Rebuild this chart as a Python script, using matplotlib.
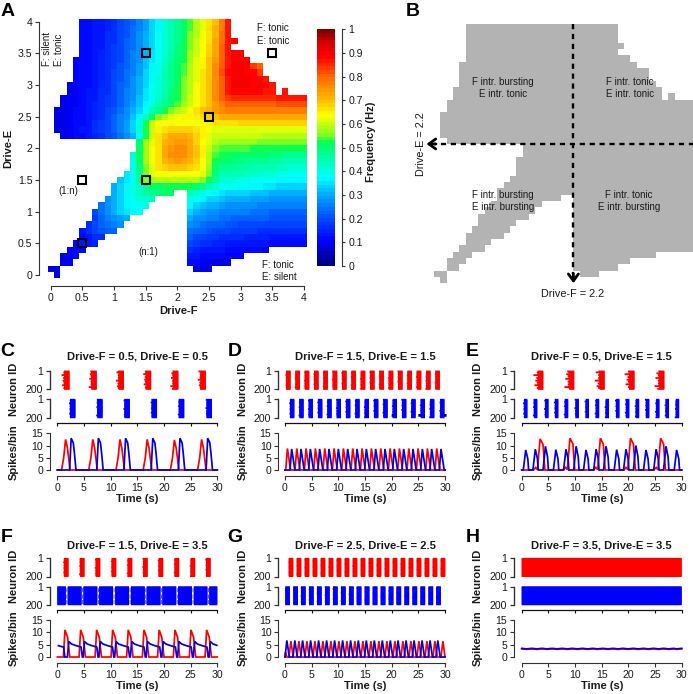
import numpy as np
import matplotlib
matplotlib.use("Agg")
import matplotlib.pyplot as plt
from matplotlib.colors import LinearSegmentedColormap, ListedColormap

plt.rcParams['font.family'] = ['Liberation Sans', 'DejaVu Sans']
W, H = 693, 694
TXT = '#1a1a1a'

# ---------- heat map values (hundredths of Hz): row -> [(first column, values), ...]
HEAT_ROWS = {
 40: [(5, [11,12,13,14,15,17,19,21,23,26,29,33,37,41,44,47,50,54,58,62,66,70,78,86])],
 39: [(5, [11,12,13,14,15,17,19,21,24,26,29,33,37,41,44,47,50,54,58,62,66,71,78,86])],
 38: [(5, [11,12,13,14,16,17,19,21,24,27,30,34,38,41,45,48,51,55,59,63,67,71,79,86])],
 37: [(5, [11,12,13,14,16,17,19,22,24,27,30,34,38,42,45,48,52,56,60,63,67,72,79,86,88])],
 36: [(5, [11,12,13,14,16,18,20,22,24,27,31,34,38,42,45,49,52,56,60,64,68,72,80,87])],
 35: [(5, [11,12,13,15,16,18,20,22,25,28,31,35,39,42,46,49,53,57,60,64,68,73,80,87,89,90])],
 34: [(4, [10,11,12,13,15,16,18,20,23,25,28,32,35,39,43,46,50,53,57,61,65,69,74,81,87,89,89,90])],
 33: [(4, [10,11,12,13,15,17,18,21,23,26,29,32,36,40,43,47,50,54,58,62,65,69,75,81,87,90,90,88,83,80])],
 32: [(4, [10,11,12,14,15,17,19,21,24,26,29,33,37,40,44,47,51,54,58,62,66,70,75,82,88,90,90,89,88,83])],
 31: [(4, [10,11,12,14,15,17,19,21,24,27,30,33,37,41,44,48,51,55,59,62,66,70,75,81,87,90,90,90,89,88,86])],
 30: [(3, [9,10,11,12,14,15,17,19,22,24,27,30,34,38,41,45,48,52,55,59,63,66,70,75,81,87,90,90,90,89,88,88,87])],
 29: [(3, [9,10,11,13,14,16,17,20,22,25,28,31,35,38,42,45,49,52,56,59,63,67,70,75,81,86,88,88,88,88,88,87,87]), (37, [86])],
 28: [(2, [9,10,10,11,13,14,16,18,20,22,25,28,32,35,39,43,46,50,53,56,60,63,67,70,75,80,84,85,85,85,85,85,85,85,86,86,86,86,86])],
 27: [(2, [9,10,10,12,13,15,16,18,20,23,26,29,32,36,40,44,48,51,54,57,60,63,66,70,74,78,80,81,81,81,81,81,81,81,82,82,82,82,82])],
 26: [(1, [8,9,10,11,12,13,15,17,19,21,24,27,30,34,39,44,48,52,55,58,60,63,66,69,71,74,76,77,77,77,77,77,77,77,77,78,78,78,78,78])],
 25: [(1, [8,9,10,11,12,14,15,17,19,22,25,28,32,37,43,50,55,59,62,64,65,65,65,66,68,70,72,72,73,73,73,73,73,73,73,73,73,73,73,73])],
 24: [(1, [8,9,10,11,12,14,16,18,20,22,25,29,33,40,52,60,63,64,64,64,64,64,64,64,65,66,66,67,67,68,68,68,68,68,68,68,68,68,68,68])],
 23: [(1, [8,9,10,11,13,14,16,18,20,23,26,29,34,42,52,60,65,67,68,68,68,68,67,65,63,62,62,62,62,62,62,62,62,62,62,62,62,62,62,62])],
 22: [(2, [9,10,11,12,13,15,17,19,21,24,27,31,38,53,60,66,70,72,73,73,71,68,65,61,60,60,60,60,60,60,60,60,59,59,59,59,59,59,59])],
 21: [(14, [50,57,62,67,71,73,74,74,72,68,64,61,58,57,57,57,57,57,57,56,56,56,56,55,55,55,55])],
 20: [(14, [50,57,63,67,72,74,76,75,73,69,65,60,56,54,54,54,54,54,53,53,53,53,52,52,52,52,52])],
 19: [(13, [41,50,57,63,67,72,75,76,75,73,69,65,59,54,52,52,51,51,51,50,50,50,49,49,48,48,47,47])],
 18: [(13, [40,50,57,63,67,71,73,74,73,71,68,64,58,53,50,50,49,49,48,48,47,47,46,46,45,45,44,44])],
 17: [(13, [39,49,56,62,66,68,69,69,69,68,66,63,57,51,48,47,47,46,46,45,45,44,44,43,43,42,42,41])],
 16: [(12, [35,38,48,55,62,63,64,64,64,64,64,63,61,55,49,45,45,44,44,43,43,42,41,41,40,40,39,39,38])],
 15: [(11, [32,35,38,47,56,57,58,59,59,59,59,59,58,56,52,47,42,41,41,40,40,39,39,38,38,37,37,36,36,36])],
 14: [(10, [31,34,37,40,43,47,50,51,52,52,52,52,52,50,47,44,41,39,38,38,37,37,36,36,35,35,34,34,34,33,33])],
 13: [(10, [30,34,37,40,43,46,48,49,50,50]), (22, [44,42,40,38,36,35,34,34,33,33,32,32,32,31,31,31,30,30,30])],
 12: [(9, [27,31,34,37,39,41,42,43]), (22, [40,38,36,34,33,32,31,31,30,30,29,29,29,28,28,28,28,27,27])],
 11: [(8, [24,28,31,34,36,38,39,40]), (22, [36,34,32,31,30,29,28,28,27,27,27,26,26,26,26,25,25,25,25])],
 10: [(7, [20,24,27,30,33,35,37,38]), (22, [33,31,29,28,27,26,26,25,25,25,24,24,24,23,23,23,23,23,23])],
 9: [(7, [18,22,25,27,29,30]), (22, [30,28,27,26,25,24,24,23,23,22,22,22,22,21,21,21,21,21,21])],
 8: [(6, [16,19,22,24,26,28]), (22, [27,25,24,23,22,22,21,21,20,20,20,20,19,19,19,19,19,19,19])],
 7: [(5, [14,17,19,21,22,23]), (22, [24,23,22,21,20,19,19,18,18,18,18,17,17,17,17,16,16,16,16])],
 6: [(5, [12,14,16,17]), (22, [22,20,19,18,18,17,17,16,16,15,15,15,15,14,14,14,14,14,14])],
 5: [(4, [11,13,14,15]), (22, [19,18,17,16,15,15,14,14,14,13,13,13,13,12,12,12,12,12,11])],
 4: [(3, [10,11,12]), (22, [16,15,14,14,13,13,12,12,12,11,11,11,10])],
 3: [(2, [9,10,11]), (22, [14,13,12,12,11,11,10,10,10])],
 2: [(2, [9,10]), (22, [12,11,10,10,9,9,9])],
 1: [(0, [8,9]), (23, [9,9,8])],
 0: [(1, [8])],
}
MARKER_F = [0.5, 1.5, 0.5, 1.5, 2.5, 3.5]
MARKER_E = [0.5, 1.5, 1.5, 3.5, 2.5, 3.5]
DRIVE_TICKS = [0, 0.5, 1, 1.5, 2, 2.5, 3, 3.5, 4]
DRIVE_LABELS = ['0', '0.5', '1', '1.5', '2', '2.5', '3', '3.5', '4']
FREQ_TICKS = [0, .1, .2, .3, .4, .5, .6, .7, .8, .9, 1]
FREQ_LABELS = ['0', '0.1', '0.2', '0.3', '0.4', '0.5', '0.6', '0.7', '0.8', '0.9', '1']
SPLIT_DRAWN = 2.15
TIME_TICKS = [0, 5, 10, 15, 20, 25, 30]
RATE_TICKS = [0, 5, 10, 15]

# ---------- raster bursts (s)
C_RED = [1.3, 6.4, 11.5, 16.6, 21.7, 26.85]
C_BLUE = [2.4, 7.5, 12.6, 17.7, 22.8, 28.0]
D_RED = [.2, 1.95, 3.7, 5.45, 7.2, 8.95, 10.7, 12.45, 14.2, 15.95, 17.7, 19.45, 21.2, 22.95, 24.7, 26.45, 28.2]
D_BLUE = [.95, 2.7, 4.45, 6.2, 7.95, 9.7, 11.45, 13.2, 14.95, 16.7, 18.45, 20.2, 21.95, 23.7, 25.45, 27.2, 29.1]
D_EXTRA = [15.0, 20.0, 25.0, 29.8]
E_RED = [3.1, 8.9, 14.6, 20.2, 25.8]
E_BLUE = [.45, 2.3, 4.4, 6.25, 8.1, 10.1, 12.0, 13.9, 15.75, 17.7, 19.55, 21.4, 23.3, 25.2, 27.0, 28.9]
F_RED = [1.25, 4.25, 7.2, 10.2, 13.2, 16.1, 19.0, 22.0, 25.0, 27.9]
F_BLUE_ON = [0.0, 1.95, 4.9, 7.85, 10.85, 13.8, 16.75, 19.7, 22.65, 25.6, 28.5]
F_BLUE_OFF = [1.6, 4.55, 7.5, 10.45, 13.45, 16.4, 19.35, 22.3, 25.25, 28.15, 30.0]
G_RED = [.7, 2.2, 3.7, 5.2, 6.7, 8.2, 9.7, 11.2, 12.7, 14.2, 15.7, 17.2, 18.7, 20.2, 21.7, 23.2, 24.7, 26.2, 27.7, 29.2]
G_BLUE = [.05, 1.55, 3.0, 4.5, 6.0, 7.5, 9.0, 10.5, 12.0, 13.45, 14.95, 16.45, 17.95, 19.45, 20.9, 22.4, 23.9, 25.4, 26.9, 28.35]
H_ON = [0.0]
H_OFF = [30.0]
# relative lead of each 10-neuron group of a burst, read as typical jaggedness
LEAD = [.1, .3, 0, .2, 1, .1, 0, .4, .2, 0, .6, .1, .3, 0, .2, .8, .1, 0, .3, .1]

# ---------- rate traces: peak times (s), heights, and one cycle's shape (dt, fraction)
C_RED_PK = [1.55, 6.65, 11.75, 16.85, 21.95, 27.05]
C_BLUE_PK = [2.6, 7.7, 12.8, 17.9, 23.0, 28.2]
C_RED_H = [12.5, 12.5, 12.5, 12.5, 12.3, 12.5]
C_BLUE_H = [13, 13, 13, 13, 13, 13]
D_RED_PK = [.45, 2.2, 3.95, 5.7, 7.45, 9.2, 10.95, 12.7, 14.45, 16.2, 17.95, 19.7, 21.45, 23.2, 24.95, 26.7, 28.45]
D_BLUE_PK = [1.25, 3.0, 4.75, 6.5, 8.25, 10.0, 11.75, 13.5, 15.25, 17.0, 18.75, 20.5, 22.25, 24.0, 25.75, 27.5, 29.25]
D_RED_H = [8.8] * 17
D_BLUE_H = [8.6] * 17
E_RED_PK = [3.45, 9.05, 14.75, 20.4, 26.05]
E_RED_H = [12.7, 13, 13, 13, 13]
E_BLUE_PK = [.75, 2.55, 4.45, 6.4, 8.3, 10.2, 12.05, 13.95, 15.8, 17.8, 19.55, 21.4, 23.3, 25.2, 27.05, 29.05]
E_BLUE_H = [8.2, 8.5, 9.7, 8.3, 8.5, 9.7, 8.2, 8.5, 9.7, 8.3, 8.5, 10, 8.2, 8.5, 9.7, 8.2]
F_RED_PK = [1.44, 4.38, 7.38, 10.38, 13.3, 16.25, 19.1, 22.06, 25.06, 28.0]
F_RED_H = [11] * 10
F_BLUE_PK = [2.15, 5.1, 8.05, 11.0, 13.95, 16.9, 19.85, 22.8, 25.75, 28.7]
F_BLUE_H = [6.3] * 10
G_RED_PK = [1.1, 2.6, 4.1, 5.6, 7.1, 8.6, 10.1, 11.6, 13.1, 14.6, 16.1, 17.6, 19.1, 20.6, 22.1, 23.6, 25.1, 26.6, 28.1, 29.6]
G_BLUE_PK = [.35, 1.85, 3.3, 4.8, 6.3, 7.8, 9.3, 10.8, 12.3, 13.75, 15.25, 16.75, 18.25, 19.75, 21.2, 22.7, 24.2, 25.7, 27.2, 28.65]
G_RED_H = [6.4] * 20
G_BLUE_H = [6.7] * 20
H_PK = [0, 1.9, 3.8, 5.7, 7.6, 9.5, 11.4, 13.3, 15.2, 17.1, 19, 20.9, 22.8, 24.7, 26.6, 28.5, 30]
H_RED_H = [3.3] * 17
H_BLUE_H = [3.5] * 17
SHAPE_C_RED = ([-.75, -.35, 0, .35, .85], [0, .4, 1, .72, 0])
SHAPE_C_BLUE = ([-.3, 0, .4, .6, .9], [0, 1, .85, .55, 0])
SHAPE_D = ([-.32, 0, .6], [0, 1, 0])
SHAPE_E_RED = ([-1.25, -.85, -.5, 0, .55, .9], [0, .08, .01, 1, .82, 0])
SHAPE_E_BLUE = ([-.45, 0, .4, .55], [0, 1, .55, 0])
SHAPE_F_RED = ([-.3, 0, .5, .9], [0, 1, .72, 0])
SHAPE_F_BLUE = ([-.25, 0, .5, 1.2, 2.0, 2.3, 2.55], [0, 1, .84, .75, .67, .64, 0])
SHAPE_G = ([-.35, 0, .45], [0, 1, 0])
SHAPE_H = ([-.95, 0], [.94, 1])
F_BLUE_HEAD = ([0.2, 1.2, 1.4], [4.6, 4.0, 0])
G_RED_HEAD = ([0.1, .35], [2, 0])

PANELS = [
 dict(c='C', f=.5, e=.5, col=0, row=0, red=(C_RED, [1.0]*6, .5), blue=(C_BLUE, [1.0]*6, .2),
      rt=(C_RED_PK, C_RED_H, SHAPE_C_RED), bt=(C_BLUE_PK, C_BLUE_H, SHAPE_C_BLUE)),
 dict(c='D', f=1.5, e=1.5, col=1, row=0, red=(D_RED, [.85]*17, .12), blue=(D_BLUE, [.8]*17, .15),
      rt=(D_RED_PK, D_RED_H, SHAPE_D), bt=(D_BLUE_PK, D_BLUE_H, SHAPE_D)),
 dict(c='E', f=.5, e=1.5, col=2, row=0, red=(E_RED, [.95]*5, .9), blue=(E_BLUE, [.62]*16, .2),
      rt=(E_RED_PK, E_RED_H, SHAPE_E_RED), bt=(E_BLUE_PK, E_BLUE_H, SHAPE_E_BLUE)),
 dict(c='F', f=1.5, e=3.5, col=0, row=1, red=(F_RED, [.85]*10, .15),
      blue=(F_BLUE_ON, list(np.subtract(F_BLUE_OFF, F_BLUE_ON)), 0),
      rt=(F_RED_PK, F_RED_H, SHAPE_F_RED), bt=(F_BLUE_PK, F_BLUE_H, SHAPE_F_BLUE), head=F_BLUE_HEAD),
 dict(c='G', f=2.5, e=2.5, col=1, row=1, red=(G_RED, [.85]*20, .05), blue=(G_BLUE, [.88]*20, .05),
      rt=(G_RED_PK, G_RED_H, SHAPE_G), bt=(G_BLUE_PK, G_BLUE_H, SHAPE_G), rhead=G_RED_HEAD),
 dict(c='H', f=3.5, e=3.5, col=2, row=1, red=(H_ON, [30.0], 0), blue=(H_ON, [30.0], 0),
      rt=(H_PK, H_RED_H, SHAPE_H), bt=(H_PK, H_BLUE_H, SHAPE_H)),
]

# ---------- layout
COL_X = [(57.3, 217.3, 50.0, 14), (285.0, 445.0, 278.3, 243), (521.7, 681.7, 514.2, 478)]
LETTER_X = [7, 235, 472.7]
ROW_Y = [dict(letter=352, title=356.7, r=(371, 389.3), b=(399.3, 417.7), top=423.3, s=(433.3, 470), bot=476, time=499.3, nid=389, sp=451.7),
         dict(letter=538, title=545, r=(558.3, 576.5), b=(586.7, 604.7), top=610, s=(620, 657), bot=662.7, time=685.7, nid=576.7, sp=638)]
DARK = '#333333'

fig = plt.figure(figsize=(W / 100, H / 100), dpi=100, facecolor='white')

def axpx(l, t, r, b):
    a = fig.add_axes([l / W, 1 - b / H, (r - l) / W, (b - t) / H])
    a.patch.set_alpha(0)
    return a

def T(x, y, s, **k):
    k.setdefault('ha', 'center'); k.setdefault('va', 'center'); k.setdefault('color', TXT)
    fig.text(x / W, 1 - y / H, s, **k)

def pts(px):
    return px * 72 / 100

# ---------- heat map
heat = np.full((41, 41), np.nan)
for j, segs in HEAT_ROWS.items():
    for start, vals in segs:
        heat[j, start:start + len(vals)] = np.array(vals) / 100
edges = np.arange(42) * 0.1 - 0.05
cmap = LinearSegmentedColormap.from_list('freq', [
    (0, (0, 0, .5)), (.1, (0, 0, 1)), (.2, (0, .3, 1)), (.3, (0, .68, 1)), (.37, (0, 1, 1)),
    (.47, (0, 1, .6)), (.52, (0, 1, .35)), (.56, (.55, 1, .1)), (.64, (1, 1, 0)), (.7, (1, .75, 0)),
    (.8, (1, .42, 0)), (.89, (1, 0, 0)), (.95, (.85, 0, 0)), (1, (.5, 0, 0))], N=64)

axA = axpx(47.5, 18.5, 307.2, 278.2)
axA.pcolormesh(edges, edges, np.ma.masked_invalid(heat), cmap=cmap, vmin=0, vmax=1, linewidth=0)
axA.plot(MARKER_F, MARKER_E, ls='', marker='s', ms=5.6, mfc='none', mec='black', mew=1.5)
axA.set_xlim(-.05, 4.05); axA.set_ylim(-.05, 4.05)
for s in ('top', 'right'):
    axA.spines[s].set_visible(False)
axA.spines['bottom'].set_position(('outward', pts(7.5))); axA.spines['bottom'].set_bounds(0, 4)
axA.spines['left'].set_position(('outward', pts(8.2))); axA.spines['left'].set_bounds(0, 4)
axA.spines['bottom'].set_color(DARK); axA.spines['left'].set_color(DARK)
axA.set_xticks(DRIVE_TICKS, DRIVE_LABELS); axA.set_yticks(DRIVE_TICKS, DRIVE_LABELS)
axA.tick_params(length=3, width=.8, labelsize=7.6, color=DARK, labelcolor=TXT, pad=2)
T(178, 311, 'Drive-F', fontsize=8, fontweight='bold')
T(8, 148, 'Drive-E', fontsize=8, fontweight='bold', rotation=90)
T(47, 49, 'F: silent', fontsize=7, rotation=90)
T(58.7, 50, 'E: tonic', fontsize=7, rotation=90)
T(256.7, 28.3, 'F: tonic', fontsize=7, ha='left')
T(256.7, 40.7, 'E: tonic', fontsize=7, ha='left')
T(68, 190.7, '(1:n)', fontsize=7)
T(148.3, 251.7, '(n:1)', fontsize=7)
T(261.7, 265, 'F: tonic', fontsize=7, ha='left')
T(261.7, 277.3, 'E: silent', fontsize=7, ha='left')

# ---------- colour bar
axC = axpx(316.5, 29.3, 335.2, 266)
lev = np.linspace(0, 1, 65)
axC.pcolormesh([0, 1], lev, ((lev[:-1] + lev[1:]) / 2)[:, None], cmap=cmap, vmin=0, vmax=1)
axC.set_xticks([]); axC.set_ylim(0, 1)
for s in ('top', 'left', 'bottom'):
    axC.spines[s].set_visible(False)
axC.yaxis.tick_right()
axC.spines['right'].set_position(('outward', pts(7))); axC.spines['right'].set_color(DARK)
axC.set_yticks(FREQ_TICKS, FREQ_LABELS)
axC.tick_params(length=2.5, width=.8, labelsize=7.6, color=DARK, labelcolor=TXT, pad=2)
T(370.7, 141.7, 'Frequency (Hz)', fontsize=8, fontweight='bold', rotation=90)

# ---------- panel B
axB = axpx(434.1, 23.7, 693.7, 283.2)
axB.pcolormesh(edges, edges, np.ma.masked_invalid(np.where(np.isnan(heat), np.nan, 1.0)),
               cmap=ListedColormap(['#b3b3b3']), vmin=0, vmax=2, linewidth=0)
axB.set_xlim(-.05, 4.05); axB.set_ylim(-.05, 4.05)
axB.axis('off')
axB.plot([SPLIT_DRAWN, SPLIT_DRAWN], [4.05, .1], color='black', lw=1.7, ls=(0, (2.2, 2)))
axB.plot([4.05, -.08], [SPLIT_DRAWN, SPLIT_DRAWN], color='black', lw=1.7, ls=(0, (2.2, 2)))
ARROW = dict(arrowstyle='->,head_length=0.55,head_width=0.4', lw=2.0, color='black', mutation_scale=9, shrinkA=0, shrinkB=0)
axB.annotate('', xy=(SPLIT_DRAWN, -.05), xytext=(SPLIT_DRAWN, .1), annotation_clip=False, arrowprops=ARROW)
axB.annotate('', xy=(-.17, SPLIT_DRAWN), xytext=(-.02, SPLIT_DRAWN), annotation_clip=False, arrowprops=ARROW)
for x, y, s in [(502.7, 82, 'F intr. bursting'), (502.7, 94, 'E intr. tonic'),
                (630, 82, 'F intr. tonic'), (630, 94, 'E intr. tonic'),
                (502.7, 194.5, 'F intr. bursting'), (502.7, 207, 'E intr. bursting'),
                (629, 194.5, 'F intr. tonic'), (629, 207, 'E intr. bursting')]:
    T(x, y, s, fontsize=7)
T(572.5, 294, 'Drive-F = 2.2', fontsize=7.8)
T(420.5, 144, 'Drive-E = 2.2', fontsize=7.8, rotation=90)

# ---------- time-series panels
def raster(a, bursts, color):
    starts, widths, lead = bursts
    for b, (s, w) in enumerate(zip(starts, widths)):
        for k in range(20):
            ld = LEAD[(k + 7 * b) % 20]
            left = s - lead * ld
            a.barh(10 * k + 6, s + w - left, left=left, height=20, color=color, lw=0, clip_on=False, snap=False)
    a.set_xlim(0, 30); a.set_ylim(200, 1)

def trace(pk, hs, shape, head=None):
    dts, fr = shape
    t, v = ([], []) if head is None else (list(head[0]), list(head[1]))
    for p, h in zip(pk, hs):
        t += [p + d for d in dts]
        v += [h * f for f in fr]
    t, v = np.array(t), np.array(v)
    keep = (t >= 0) & (t <= 30)
    return t[keep], v[keep]

for P in PANELS:
    x0, x1, sx, lx = COL_X[P['col']]
    R = ROW_Y[P['row']]
    T(LETTER_X[P['col']], R['letter'], P['c'], fontsize=14, fontweight='bold', color='black')
    T((x0 + x1) / 2, R['title'], f"Drive-F = {P['f']}, Drive-E = {P['e']}", fontsize=8, fontweight='bold')
    for key, rng, col in (('red', R['r'], '#ff0000'), ('blue', R['b'], '#0000ff')):
        a = axpx(x0, rng[0], x1, rng[1])
        raster(a, P[key], col)
        for s in ('top', 'right', 'bottom'):
            a.spines[s].set_visible(False)
        a.spines['left'].set_position(('outward', pts(x0 - sx)))
        a.spines['left'].set_color(DARK); a.spines['left'].set_linewidth(1.0)
        a.set_yticks([1, 200], ['1', '200'])
        a.tick_params(axis='y', length=3, width=.9, labelsize=7.6, color=DARK, labelcolor=TXT, pad=2)
        if key == 'blue':
            if P['c'] == 'D':
                a.barh([175] * len(D_EXTRA), [.5] * len(D_EXTRA), left=D_EXTRA, height=30, color='#000080', lw=0, clip_on=False, snap=False)
            if P['c'] == 'F':
                # sparse spikes still present inside the gaps of the blue raster
                for off in F_BLUE_OFF[:-1]:
                    a.barh([40, 110, 170], [.12] * 3, left=off + .13, height=45, color='#0000ff', lw=0, clip_on=False, snap=False)
            a.spines['bottom'].set_visible(True)
            a.spines['bottom'].set_position(('outward', pts(R['top'] - rng[1])))
            a.spines['bottom'].set_color('#111111'); a.spines['bottom'].set_linewidth(.9)
            a.set_xticks(TIME_TICKS, [''] * 7)
            a.tick_params(axis='x', length=1.8, width=.8, color='#111111')
        else:
            a.set_xticks([])
    a = axpx(x0, R['s'][0], x1, R['s'][1])
    tr, vr = trace(*P['rt'], head=P.get('rhead'))
    tb, vb = trace(*P['bt'], head=P.get('head'))
    tr = np.r_[0, tr, 30] if tr[0] > 0 else tr
    vr = np.r_[0, vr, 0] if len(vr) < len(tr) else vr
    a.plot(tr, vr, color='#ff0000', lw=1.25, clip_on=False, solid_joinstyle='miter')
    if P['c'] in 'CDEG':
        tb = np.r_[0, tb, 30]; vb = np.r_[0, vb, 0]
    a.plot(tb, vb, color='#0000e0', lw=1.25, clip_on=False, solid_joinstyle='miter')
    a.set_xlim(0, 30); a.set_ylim(0, 15)
    for s in ('top', 'right'):
        a.spines[s].set_visible(False)
    a.spines['left'].set_position(('outward', pts(x0 - sx)))
    a.spines['bottom'].set_position(('outward', pts(R['bot'] - R['s'][1])))
    a.spines['left'].set_color(DARK); a.spines['bottom'].set_color(DARK)
    a.set_xticks(TIME_TICKS, [str(v) for v in TIME_TICKS])
    a.set_yticks(RATE_TICKS, [str(v) for v in RATE_TICKS])
    a.tick_params(length=3, width=.8, labelsize=7.6, color=DARK, labelcolor=TXT, pad=2)
    T((x0 + x1) / 2, R['time'], 'Time (s)', fontsize=8, fontweight='bold')
    T(lx, R['nid'], 'Neuron ID', fontsize=8, fontweight='bold', rotation=90)
    T(lx, R['sp'], 'Spikes/bin', fontsize=8, fontweight='bold', rotation=90)

T(8, 12, 'A', fontsize=14, fontweight='bold', color='black')
T(412.7, 11, 'B', fontsize=14, fontweight='bold', color='black')

fig.savefig('out.png', dpi=100, facecolor='white')
